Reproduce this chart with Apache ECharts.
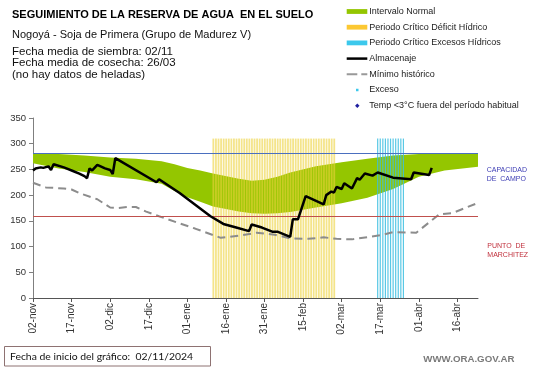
<!DOCTYPE html>
<html><head><meta charset="utf-8">
<script src="https://cdn.jsdelivr.net/npm/echarts@6/dist/echarts.min.js"></script>
<style>html,body{margin:0;padding:0;background:#fff}#c{width:541px;height:368px}</style>
</head><body><div id="c"></div>
<script>
// ---- data (x = days since 02-nov-2024) ----
const xTickLabels = ['02-nov','17-nov','02-dic','17-dic','01-ene','16-ene','31-ene','15-feb','02-mar','17-mar','01-abr','16-abr'];
const xTickStep = 15;
const xMaxDay = 173;

const bandDays  = [0,10,20,30,40,50,55,60,65,70,80,85,90,95,100,110,120,130,140,150,160,173];
const bandLower = [262,252,245,236,231,222,208,196,187,178,168,165,164,165,167,176,184,195,212,236,248,255];
const bandUpper = [281,280,277,273,271,266,260,253,248,242,232,228,230,236,244,256,264,271,277,280,281,281];

const storageDays   = [0,1,3,4,6,7,8,12,16,18,20,21,22,23,25,28,30,31,32,48,49,57,69,74,79,84,85,89,93,95,100,101,103,106,113,114,116,117,118,120,121,124,126,127,129,132,134,140,147,148,154,155];
const storageValues = [248,252,254,253,256,249,260,254,246,242,237,233,252,248,259,252,249,241,272,225,231,204,159,144,137,130,143,137,129,129,119,153,153,198,182,200,207,205,216,212,223,213,233,230,242,238,244,234,231,244,239,253];

const minDays   = [0,5,12,15,18,25,30,33,37,40,44,49,57,63,73,81,87,94,100,107,113,118,124,135,140,149,158,163,173];
const minValues = [224,215,213,211,204,192,176,175,177,177,168,159,145,135,117,122,127,123,116,115,118,115,114,122,128,127,163,165,185];

const deficitPeriod = [70, 117];   // Periodo Crítico Déficit Hídrico (days)
const excessPeriod  = [134, 144];  // Periodo Crítico Excesos Hídricos (days)
const periodTop = 310;
const fieldCapacity = 281;
const wiltingPoint = 159;

// ---- build ----
const xTicks = xTickLabels.map((_, i) => i * xTickStep);
function periodBars(p){ const r=[]; for(let d=p[0]; d<=p[1]; d++) r.push([d, periodTop]); return r; }
const FONT = '"Liberation Sans", Arial, sans-serif';
const GREEN = '#94c600';

const chart = echarts.init(document.getElementById('c'), null, {renderer:'canvas'});

const lx = 346.7, lw = 20.6, tx = 369.3;
const rows = [11.5, 27.2, 42.9, 58.6, 74.3, 90, 105.7];
const legendTexts = ['Intervalo Normal','Periodo Crítico Déficit Hídrico','Periodo Crítico Excesos Hídricos','Almacenaje','Mínimo histórico','Exceso','Temp <3°C fuera del período habitual'];

const graphics = [
  {type:'text', x:12, y:15, style:{text:'SEGUIMIENTO DE LA RESERVA DE AGUA  EN EL SUELO', font:'bold 11px '+FONT, fill:'#000', verticalAlign:'middle'}},
  {type:'text', x:12, y:35, style:{text:'Nogoyá - Soja de Primera (Grupo de Madurez V)', font:'11px '+FONT, fill:'#111', verticalAlign:'middle'}},
  {type:'text', x:12, y:51.5, style:{text:'Fecha media de siembra: 02/11', font:'11.5px '+FONT, fill:'#111', verticalAlign:'middle'}},
  {type:'text', x:12, y:63.2, style:{text:'Fecha media de cosecha: 26/03', font:'11.5px '+FONT, fill:'#111', verticalAlign:'middle'}},
  {type:'text', x:12, y:74.9, style:{text:'(no hay datos de heladas)', font:'11.5px '+FONT, fill:'#111', verticalAlign:'middle'}},
  // legend
  {type:'rect', shape:{x:lx, y:rows[0]-2.4, width:lw, height:4.8}, style:{fill:GREEN}},
  {type:'rect', shape:{x:lx, y:rows[1]-2.4, width:lw, height:4.8}, style:{fill:'#fcc832'}},
  {type:'rect', shape:{x:lx, y:rows[2]-2.4, width:lw, height:4.8}, style:{fill:'#3cc8ec'}},
  {type:'line', shape:{x1:lx, y1:rows[3], x2:lx+lw, y2:rows[3]}, style:{stroke:'#000', lineWidth:2.5}},
  {type:'line', shape:{x1:lx, y1:rows[4], x2:lx+lw, y2:rows[4]}, style:{stroke:'#999', lineWidth:2, lineDash:[10.6,4,6,10]}},
  {type:'rect', shape:{x:356, y:rows[5]-1.25, width:2.5, height:2.5}, style:{fill:'#3cc8ec'}},
  {type:'polygon', shape:{points:[[357.3,rows[6]-2.2],[359.5,rows[6]],[357.3,rows[6]+2.2],[355.1,rows[6]]]}, style:{fill:'#1f1fa0'}},
  // right labels
  {type:'text', x:486.7, y:170, style:{text:'CAPACIDAD', font:'7px '+FONT, fill:'#3c3cb4', verticalAlign:'middle'}},
  {type:'text', x:486.7, y:179, style:{text:'DE  CAMPO', font:'7px '+FONT, fill:'#3c3cb4', verticalAlign:'middle'}},
  {type:'text', x:487.3, y:246, style:{text:'PUNTO  DE', font:'7px '+FONT, fill:'#c0303c', verticalAlign:'middle'}},
  {type:'text', x:487.3, y:255, style:{text:'MARCHITEZ', font:'7px '+FONT, fill:'#c0303c', verticalAlign:'middle'}},
  // footer
  {type:'rect', shape:{x:4.5, y:346.5, width:206, height:19.5}, style:{fill:'#fff', stroke:'#8e7272', lineWidth:1}},
  {type:'text', x:10, y:356.5, style:{text:'Fecha de inicio del gráfico:  02/11/2024', font:'10.4px Lato, '+FONT, fill:'#111', verticalAlign:'middle'}},
  {type:'text', x:423.3, y:359.3, style:{text:'WWW.ORA.GOV.AR', font:'bold 9.7px '+FONT, fill:'#7a7a7a', verticalAlign:'middle'}}
];
legendTexts.forEach((t,i)=>graphics.push({type:'text', x:tx, y:rows[i], style:{text:t, font:'9px '+FONT, fill:'#222', verticalAlign:'middle'}}));

chart.setOption({
  animation:false,
  backgroundColor:'#fff',
  textStyle:{fontFamily:FONT},
  grid:{left:33, right:63, top:118, bottom:70, outerBoundsMode:'none'},
  xAxis:{
    type:'value', min:0, max:xMaxDay,
    axisLine:{show:true, onZero:false, lineStyle:{color:'#555', width:1}},
    axisTick:{show:true, length:4, customValues:xTicks, lineStyle:{color:'#555'}},
    axisLabel:{customValues:xTicks, rotate:90, fontSize:10, margin:5, color:'#333',
      formatter:v=>xTickLabels[Math.round(v/xTickStep)] || ''},
    splitLine:{show:false}
  },
  yAxis:{
    type:'value', min:0, max:350, interval:50,
    name:'Milímetros', nameLocation:'middle', nameGap:25, nameRotate:90,
    nameTextStyle:{fontSize:6, color:'#333'},
    axisLine:{show:true, lineStyle:{color:'#7f7f7f'}},
    axisTick:{show:true, length:4, lineStyle:{color:'#7f7f7f'}},
    axisLabel:{fontSize:9.5, color:'#333', margin:7},
    splitLine:{show:false}
  },
  graphic:graphics,
  series:[
    {type:'custom', name:'Intervalo Normal', silent:true, z:1,
      data:bandDays.map((d,i)=>[d,bandLower[i],bandUpper[i]]),
      encode:{x:0, y:[1,2]},
      renderItem:(params, api)=>{
        if (params.dataIndex !== 0) return null;
        const pts = [];
        for (let i=0;i<bandDays.length;i++) pts.push(api.coord([bandDays[i], bandUpper[i]]));
        for (let i=bandDays.length-1;i>=0;i--) pts.push(api.coord([bandDays[i], bandLower[i]]));
        return {type:'polygon', shape:{points:pts}, style:{fill:GREEN}};
      }},
    {type:'bar', name:'Periodo Crítico Déficit Hídrico', barWidth:1.8, barGap:'-100%', z:2, silent:true,
      itemStyle:{color:'rgba(236,210,60,0.6)'}, data:periodBars(deficitPeriod)},
    {type:'bar', name:'Periodo Crítico Excesos Hídricos', barWidth:1.2, barGap:'-100%', z:2, silent:true,
      itemStyle:{color:'rgba(60,190,225,0.85)'}, data:periodBars(excessPeriod)},
    {type:'line', name:'Mínimo histórico', symbol:'none', z:3, silent:true,
      lineStyle:{color:'#8c8c8c', width:2, type:[8,5]},
      data:minDays.map((d,i)=>[d,minValues[i]])},
    {type:'line', name:'Almacenaje', symbol:'none', z:5, silent:true,
      lineStyle:{color:'#000', width:2.5},
      data:storageDays.map((d,i)=>[d,storageValues[i]]),
      markLine:{silent:true, symbol:['none','none'], label:{show:false},
        data:[
          {yAxis:fieldCapacity, lineStyle:{color:'#4a6fbf', width:1, type:'solid'}},
          {yAxis:wiltingPoint, lineStyle:{color:'#c0504d', width:1, type:'solid'}}
        ]}}
  ]
});
</script></body></html>
